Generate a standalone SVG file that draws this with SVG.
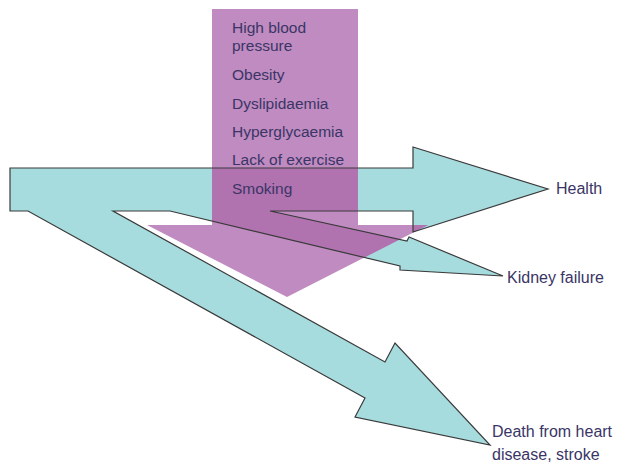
<svg xmlns="http://www.w3.org/2000/svg" width="621" height="463" viewBox="0 0 621 463">
<style>
.lbl{font-family:"Liberation Sans",Arial,sans-serif;font-size:15.5px;fill:#3a3566}
.out{font-size:16px}
.teal{fill:#a7dcdf}
.outline{fill:none;stroke:#3a3a3a;stroke-width:1.2;stroke-linejoin:miter}
.purple{fill:#bf8bc0}
.overlap{fill:#b173b0}
</style>
<defs>
<path id="tealShape" d="M10,168 L413,168 L413,147 L548,189 L413,232 L413,211 L270,211 L407,241 L409,237 L503,276 L400,270 L400,266 L170,211 L113,211 L385,362 L395,343 L490,445 L355,417 L365,398 L28,211 L10,211 Z"/>
<clipPath id="purpleClip">
<path d="M212,9 L358,9 L358,225 L428,225 L287,297 L147,225 L212,225 Z"/>
</clipPath>
</defs>
<g id="outcomes-flow">
<use href="#tealShape" class="teal"/>
</g>
<g id="risk-factors">
<path class="purple" d="M212,9 L358,9 L358,225 L428,225 L287,297 L147,225 L212,225 Z"/>
<use href="#tealShape" class="overlap" clip-path="url(#purpleClip)"/>
</g>
<g id="connectors">
<use href="#tealShape" class="outline"/>
</g>
<g id="risk-labels">
<text class="lbl" x="232" y="33">High blood</text>
<text class="lbl" x="232" y="51">pressure</text>
<text class="lbl" x="232" y="80">Obesity</text>
<text class="lbl" x="232" y="109">Dyslipidaemia</text>
<text class="lbl" x="232" y="137">Hyperglycaemia</text>
<text class="lbl" x="232" y="165">Lack of exercise</text>
<text class="lbl" x="232" y="194">Smoking</text>
</g>
<g id="health"><text class="lbl out" x="556" y="194">Health</text></g>
<g id="kidney"><text class="lbl out" x="507" y="283">Kidney failure</text></g>
<g id="death">
<text class="lbl out" x="492" y="437">Death from heart</text>
<text class="lbl out" x="492" y="460">disease, stroke</text>
</g>
</svg>
